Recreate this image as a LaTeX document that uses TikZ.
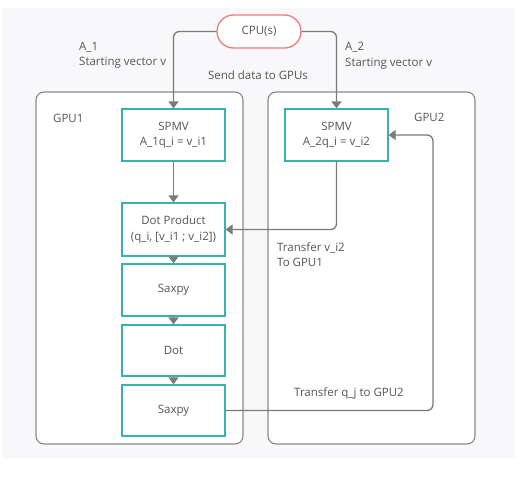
\documentclass[tikz,border=0pt]{standalone}
\usepackage{fontspec}
\setmainfont{Open Sans}
\usetikzlibrary{arrows.meta}
\definecolor{tealb}{HTML}{35B3AC}
\definecolor{gline}{HTML}{7A7A7A}
\definecolor{gbox}{HTML}{8A8A8A}
\definecolor{txt}{HTML}{555555}
\definecolor{cpur}{HTML}{EF7B7B}
\definecolor{bgc}{HTML}{F8F8FA}
\tikzset{
  stepbox/.style={draw=tealb, line width=1.3pt, fill=white, minimum width=103pt, align=center, inner sep=0pt, text=txt},
  gpubox/.style={draw=gbox, line width=1.1pt, fill=white, rounded corners=8pt},
  conn/.style={draw=gline, line width=1.3pt, rounded corners=6pt, -{Triangle[width=10pt,length=7pt]}},
  lbl/.style={inner sep=0pt, text=txt, align=left},
}
\begin{document}
\begin{tikzpicture}[x=1pt,y=-1pt, font=\fontsize{11.5}{15.5}\selectfont]
\useasboundingbox (0,0) rectangle (525,485);
\fill[white] (0,0) rectangle (525,485);
\fill[bgc] (2,8) rectangle (515,458);
% GPU containers
\node[gpubox, minimum width=207pt, minimum height=352pt] (gpu1) at (139.5,268) {};
\node[gpubox, minimum width=207pt, minimum height=352pt] (gpu2) at (371.5,268) {};
% CPU
\node[draw=cpur, line width=1.3pt, fill=white, rounded corners=16.5pt, minimum width=84pt, minimum height=33pt, inner sep=0pt, text=txt] (cpu) at (259,31.5) {CPU(s)};
% steps
\node[stepbox, minimum height=52pt] (spmv1) at (173.5,135) {SPMV\\A\_1q\_i = v\_i1};
\node[stepbox, minimum height=52pt] (spmv2) at (336.5,135) {SPMV\\A\_2q\_i = v\_i2};
\node[stepbox, minimum height=53pt] (dp) at (173.5,229.5) {Dot Product\\(q\_i, [v\_i1 ; v\_i2])};
\node[stepbox, minimum height=52pt] (sx1) at (173.5,290) {Saxpy};
\node[stepbox, minimum height=51pt] (dot) at (173.5,350.5) {Dot};
\node[stepbox, minimum height=51pt] (sx2) at (173.5,410.5) {Saxpy};
\coordinate (ret) at (433,135);
% connectors
\draw[conn] (cpu.west) -| (spmv1.north);
\draw[conn] (cpu.east) -| (spmv2.north);
\draw[conn] (spmv1) -- (dp);
\draw[conn] (spmv2.south) |- (dp.east);
\draw[conn] (dp) -- (sx1);
\draw[conn] (sx1) -- (dot);
\draw[conn] (dot) -- (sx2);
\draw[conn] (sx2.east) -| (ret) -- (spmv2.east);
% labels
\node[lbl, anchor=west] (l1) at (79,55.5) {A\_1\\Starting vector v};
\node[lbl, anchor=west] (l2) at (345,55.5) {A\_2\\Starting vector v};
\node[lbl] (l3) at (258,75) {Send data to GPUs};
\node[lbl, anchor=west] (l4) at (53,118) {GPU1};
\node[lbl, anchor=west] (l5) at (414,117) {GPU2};
\node[lbl, anchor=west] (l6) at (277,254.5) {Transfer v\_i2\\To GPU1};
\node[lbl] (l7) at (349,393) {Transfer q\_j to GPU2};
\end{tikzpicture}
\end{document}
